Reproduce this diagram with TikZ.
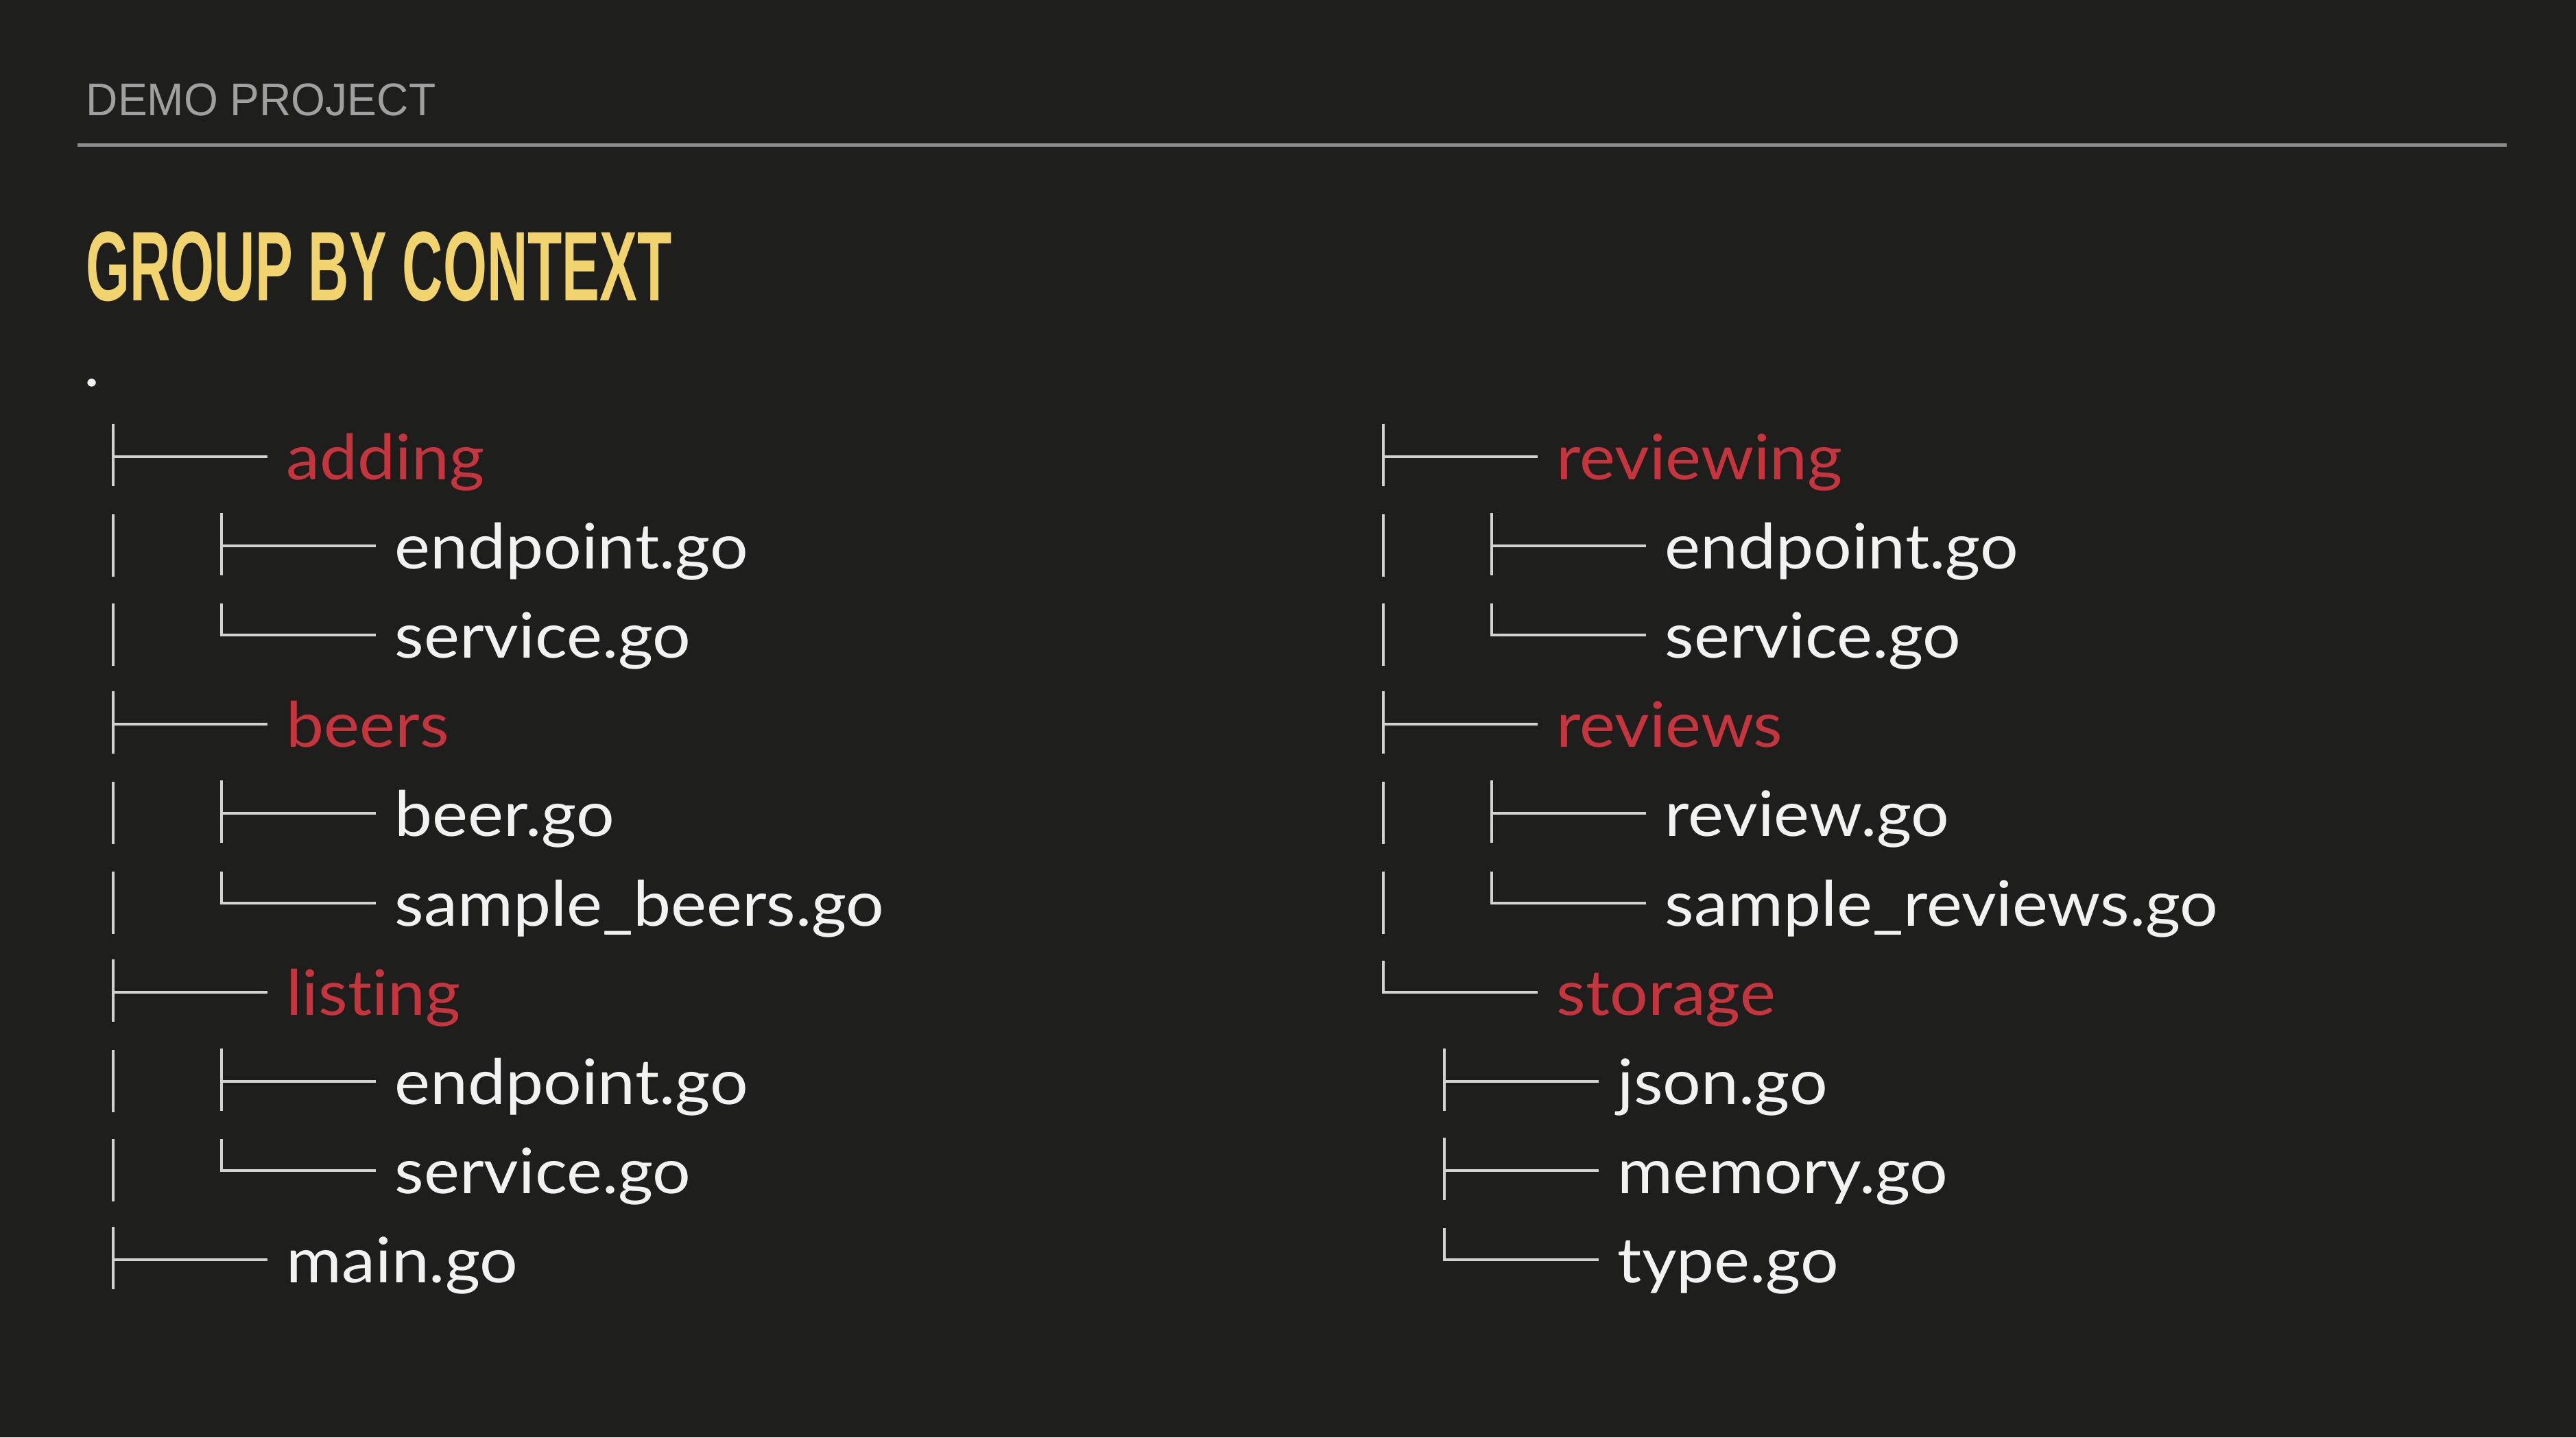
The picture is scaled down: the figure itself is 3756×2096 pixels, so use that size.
\documentclass[tikz,border=0pt]{standalone}
\usepackage{fontspec}
\setmainfont{Lato}
\newfontfamily\treefont[FakeStretch=1.075,Ligatures=NoCommon]{Lato}
\newfontfamily\headfont[FakeStretch=0.96]{Liberation Sans}
\newfontfamily\titlefont[FakeStretch=0.57]{Liberation Sans}
\definecolor{bgcol}{RGB}{30,31,29}
\definecolor{headcol}{RGB}{160,160,160}
\definecolor{rulecol}{RGB}{140,140,140}
\definecolor{titlecol}{RGB}{242,212,111}
\definecolor{dircol}{RGB}{198,52,62}
\definecolor{filecol}{RGB}{242,242,242}
\definecolor{linecol}{RGB}{210,210,210}
\newcommand\tbranch[5]{% name, vx, y, style, text
  \node[#4] (#1) at (#2+252,#3+33) {#5};
  \coordinate (#1-bp) at (#2,#3);
  \coordinate (#1-top) at (#2,#3-48);
  \coordinate (#1-bot) at (#2,#3+43);
  \draw[tl] (#1-top) -- (#1-bot);
  \draw[tl,shorten >=0.27cm] (#1-bp) -- (#1.west |- #1-bp);
}
\newcommand\lbranch[5]{% name, vx, y, style, text
  \node[#4] (#1) at (#2+252,#3+33) {#5};
  \coordinate (#1-bp) at (#2,#3);
  \coordinate (#1-top) at (#2,#3-46);
  \draw[tl,shorten >=0.27cm] (#1-top) -- (#1-bp) -- (#1.west |- #1-bp);
}
\newcommand\pipe[3]{% name, vx, y
  \coordinate (#1-pt) at (#2,#3-46);
  \coordinate (#1-pb) at (#2,#3+45);
  \draw[tl] (#1-pt) -- (#1-pb);
}
\begin{document}
\begin{tikzpicture}[x=0.01cm,y=-0.01cm,
  tl/.style={draw=linecol, line width=0.04cm},
  fname/.style={anchor=base west, inner sep=0pt, text=filecol, font=\treefont\fontsize{26}{26}\selectfont},
  dname/.style={fname, text=dircol}]
\fill[bgcol] (0,0) rectangle (3756,2096);
\useasboundingbox (0,0) rectangle (3756,2096);
% header
\node[anchor=base west, inner sep=0pt, text=headcol, font=\headfont\fontsize{19}{19}\selectfont] (hdr) at (125,168) {DEMO PROJECT};
\coordinate (ruleL) at (113,211);
\coordinate (ruleR) at (3655,211);
\draw[rulecol, line width=0.05cm] (ruleL) -- (ruleR);
\node[anchor=base west, inner sep=0pt, text=titlecol, font=\titlefont\bfseries\fontsize{41}{41}\selectfont] (title) at (125,438) {GROUP BY CONTEXT};
\node[fname] (root) at (122,563) {.};
% left column
\tbranch{a0}{165}{666}{dname}{adding}
\pipe{a1}{165}{796}
\tbranch{a1}{323}{796}{fname}{endpoint.go}
\pipe{a2}{165}{926}
\lbranch{a2}{323}{926}{fname}{service.go}
\tbranch{a3}{165}{1056}{dname}{beers}
\pipe{a4}{165}{1186}
\tbranch{a4}{323}{1186}{fname}{beer.go}
\pipe{a5}{165}{1317}
\lbranch{a5}{323}{1317}{fname}{sample\_beers.go}
\tbranch{a6}{165}{1447}{dname}{list\kern0pt ing}
\pipe{a7}{165}{1577}
\tbranch{a7}{323}{1577}{fname}{endpoint.go}
\pipe{a8}{165}{1707}
\lbranch{a8}{323}{1707}{fname}{service.go}
\tbranch{a9}{165}{1837}{fname}{main.go}
% right column
\tbranch{b0}{2017}{666}{dname}{reviewing}
\pipe{b1}{2017}{796}
\tbranch{b1}{2175}{796}{fname}{endpoint.go}
\pipe{b2}{2017}{926}
\lbranch{b2}{2175}{926}{fname}{service.go}
\tbranch{b3}{2017}{1056}{dname}{reviews}
\pipe{b4}{2017}{1186}
\tbranch{b4}{2175}{1186}{fname}{review.go}
\pipe{b5}{2017}{1317}
\lbranch{b5}{2175}{1317}{fname}{sample\_reviews.go}
\lbranch{b6}{2017}{1447}{dname}{storage}
\tbranch{b7}{2106}{1577}{fname}{json.go}
\tbranch{b8}{2106}{1707}{fname}{memory.go}
\lbranch{b9}{2106}{1837}{fname}{type.go}
\end{tikzpicture}
\end{document}
